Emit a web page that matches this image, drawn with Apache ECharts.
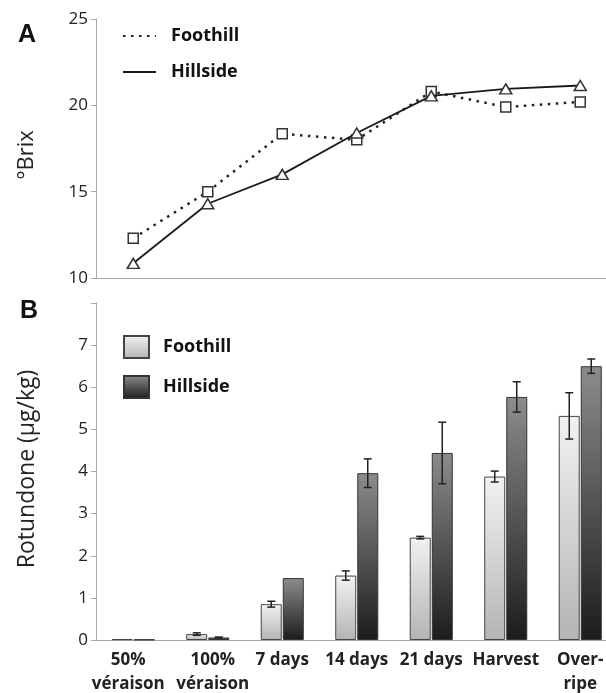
<!DOCTYPE html>
<html>
<head>
<meta charset="utf-8">
<script src="https://cdn.jsdelivr.net/npm/echarts@6/dist/echarts.min.js"></script>
<style>html,body{margin:0;padding:0;background:#fff;}#c{width:606px;height:693px;}</style>
</head>
<body>
<div id="c"></div>
<script>
// ---- data ----
var categories = ['50%\nvéraison', '100%\nvéraison', '7 days', '14 days', '21 days', 'Harvest', 'Over-\nripe'];
var brixFoothill = [12.3, 15.0, 18.35, 18.0, 20.8, 19.9, 20.2];
var brixHillside = [10.85, 14.3, 16.0, 18.4, 20.55, 20.95, 21.15];
var rotFoothill = [0.02, 0.14, 0.85, 1.53, 2.43, 3.88, 5.32];
var rotHillside = [0.01, 0.06, 1.47, 3.96, 4.44, 5.77, 6.50];
var rotFoothillErr = [0, 0.03, 0.07, 0.11, 0.03, 0.13, 0.55];
var rotHillsideErr = [0, 0.01, 0, 0.34, 0.73, 0.36, 0.17];
var brixTicks = [10, 15, 20, 25];
var rotTicks = [0, 1, 2, 3, 4, 5, 6, 7];

var FONT = '"Open Sans", sans-serif';
var BAR_W = 21, BAR_OFF = 11;

var errData = [];
rotFoothillErr.forEach(function (e, i) { if (e > 0) errData.push([i, rotFoothill[i] - e, rotFoothill[i] + e, -1]); });
rotHillsideErr.forEach(function (e, i) { if (e > 0) errData.push([i, rotHillside[i] - e, rotHillside[i] + e, 1]); });

function grad(top, bottom) {
  return new echarts.graphic.LinearGradient(0, 0, 0, 1, [{offset: 0, color: top}, {offset: 1, color: bottom}]);
}

var chart = echarts.init(document.getElementById('c'), null, {renderer: 'canvas'});
var axisLineStyle = {lineStyle: {color: '#a8a8a8', width: 1}};
var tickLabel = {color: '#222', fontFamily: FONT, fontSize: 17};
var xLabelBase = {color: '#222', fontFamily: FONT, fontSize: 17, fontWeight: 'bold', lineHeight: 24};

var option = {
  backgroundColor: '#fff',
  animation: false,
  grid: [
    {left: 96, top: 19, height: 259, width: 521.5, outerBoundsMode: 'none', containLabel: false},
    {left: 96, top: 303, height: 337, width: 521.5, outerBoundsMode: 'none', containLabel: false}
  ],
  xAxis: [
    {type: 'category', gridIndex: 0, data: categories, boundaryGap: true,
      axisLine: axisLineStyle, axisTick: {show: false}, axisLabel: {show: false}, splitLine: {show: false}},
    {type: 'category', gridIndex: 1, data: categories, boundaryGap: true,
      axisLine: axisLineStyle, axisTick: {show: false},
      axisLabel: Object.assign({interval: 0, margin: 8,
        formatter: function (v, i) {
          var key = i === 0 ? 'l' : (i === 1 ? 'r' : 'n');
          return v.split('\n').map(function (s) { return '{' + key + '|' + s + '}'; }).join('\n');
        },
        rich: {
          l: Object.assign({padding: [0, 10, 0, 0]}, xLabelBase),
          r: Object.assign({padding: [0, 0, 0, 10]}, xLabelBase),
          n: Object.assign({}, xLabelBase)
        }}, xLabelBase),
      splitLine: {show: false}}
  ],
  yAxis: [
    {type: 'value', gridIndex: 0, min: 10, max: 25, interval: 5,
      axisLine: {show: true, lineStyle: {color: '#a8a8a8', width: 1}},
      axisTick: {show: true, length: 5, lineStyle: {color: '#a8a8a8'}},
      axisLabel: Object.assign({margin: 8, formatter: function (v) { return brixTicks.indexOf(v) >= 0 ? String(v) : ''; }}, tickLabel),
      splitLine: {show: false}},
    {type: 'value', gridIndex: 1, min: 0, max: 8, interval: 1,
      axisLine: {show: true, lineStyle: {color: '#a8a8a8', width: 1}},
      axisTick: {show: true, length: 5, lineStyle: {color: '#a8a8a8'}},
      axisLabel: Object.assign({margin: 8, formatter: function (v) { return rotTicks.indexOf(v) >= 0 ? String(v) : ''; }}, tickLabel),
      splitLine: {show: false}}
  ],
  legend: [
    {data: ['Foothill', 'Hillside'], orient: 'vertical', left: 117, top: 22,
      itemWidth: 33, itemHeight: 20, itemGap: 18,
      itemStyle: {opacity: 0},
      textStyle: {fontFamily: FONT, fontSize: 18, fontWeight: 'bold', color: '#111', padding: [0, 0, 0, 10]}},
    {data: ['Foothill B', 'Hillside B'], orient: 'vertical', left: 118, top: 330,
      itemWidth: 25, itemHeight: 22, itemGap: 16, icon: 'rect',
      formatter: function (n) { return n.replace(' B', ''); },
      textStyle: {fontFamily: FONT, fontSize: 18, fontWeight: 'bold', color: '#111', padding: [0, 0, 0, 9]}}
  ],
  graphic: [
    {type: 'text', x: 27, y: 35, style: {text: 'A', font: 'bold 25px "Liberation Sans", Arial, sans-serif', fill: '#111', align: 'center', verticalAlign: 'middle'}},
    {type: 'text', x: 29, y: 311, style: {text: 'B', font: 'bold 25px "Liberation Sans", Arial, sans-serif', fill: '#111', align: 'center', verticalAlign: 'middle'}},
    {type: 'text', x: 27, y: 155, rotation: Math.PI / 2, style: {text: '°Brix', font: '22px ' + FONT, fill: '#222', align: 'center', verticalAlign: 'middle'}},
    {type: 'text', x: 27, y: 469, rotation: Math.PI / 2, style: {text: 'Rotundone (µg/kg)', font: '23px ' + FONT, fill: '#222', align: 'center', verticalAlign: 'middle'}}
  ],
  series: [
    {name: 'Foothill', type: 'line', xAxisIndex: 0, yAxisIndex: 0, data: brixFoothill,
      symbol: 'rect', symbolSize: 10, z: 3,
      lineStyle: {color: '#222', width: 2.5, type: [2.5, 5.5]},
      itemStyle: {color: '#fff', borderColor: '#333', borderWidth: 1.5}},
    {name: 'Hillside', type: 'line', xAxisIndex: 0, yAxisIndex: 0, data: brixHillside,
      symbol: 'triangle', symbolSize: [12, 10], z: 4,
      lineStyle: {color: '#1a1a1a', width: 1.8},
      itemStyle: {color: '#fff', borderColor: '#333', borderWidth: 1.5}},
    {name: 'Foothill B', type: 'bar', xAxisIndex: 1, yAxisIndex: 1, data: rotFoothill,
      barWidth: BAR_W, barGap: '5%',
      itemStyle: {color: grad('#f2f2f2', '#b4b4b4'), borderColor: '#444', borderWidth: 1}},
    {name: 'Hillside B', type: 'bar', xAxisIndex: 1, yAxisIndex: 1, data: rotHillside,
      barWidth: BAR_W, barGap: '5%',
      itemStyle: {color: grad('#8c8c8c', '#1c1c1c'), borderColor: '#333', borderWidth: 1}},
    {name: 'err', type: 'custom', xAxisIndex: 1, yAxisIndex: 1, data: errData, z: 5,
      renderItem: function (params, api) {
        var cx = api.coord([api.value(0), 0])[0] + api.value(3) * BAR_OFF;
        var yl = api.coord([api.value(0), api.value(1)])[1];
        var yh = api.coord([api.value(0), api.value(2)])[1];
        var st = {stroke: '#222', lineWidth: 1.5};
        return {type: 'group', children: [
          {type: 'line', shape: {x1: cx, y1: yl, x2: cx, y2: yh}, style: st},
          {type: 'line', shape: {x1: cx - 4, y1: yl, x2: cx + 4, y2: yl}, style: st},
          {type: 'line', shape: {x1: cx - 4, y1: yh, x2: cx + 4, y2: yh}, style: st}
        ]};
      }}
  ]
};
chart.setOption(option);
</script>
</body>
</html>
